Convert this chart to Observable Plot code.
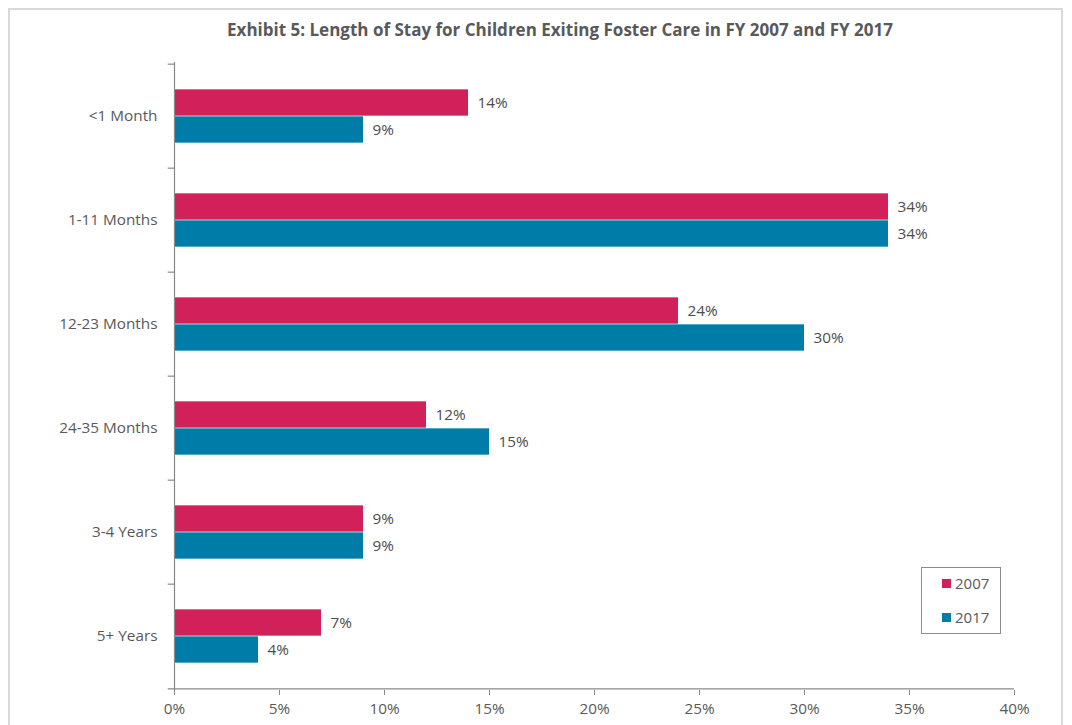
<!DOCTYPE html>
<html>
<head>
<meta charset="utf-8">
<script src="https://cdn.jsdelivr.net/npm/d3@7"></script>
<script src="https://cdn.jsdelivr.net/npm/@observablehq/plot@0.6"></script>
<style>
  html, body { margin: 0; padding: 0; background: #fff; }
  #wrap { position: relative; width: 1072px; height: 725px; overflow: hidden; font-family: "Open Sans", Lato, sans-serif; color: #595959; }
  #border { position: absolute; left: 8px; top: 8px; width: 1055px; height: 740px; border: 2px solid #d9d9d9; box-sizing: border-box; }
  #title { position: absolute; left: 0; width: 1120px; top: 18px; text-align: center; font-weight: bold; font-size: 17px; color: #595959; }
  #chart { position: absolute; left: 0; top: 48px; }
  #legend { position: absolute; left: 921px; top: 567px; width: 80px; height: 67px; border: 1.5px solid #8c8c8c; box-sizing: border-box; font-size: 15px; }
  .item { position: absolute; left: 20px; display: flex; align-items: center; gap: 4px; }
  .sw { width: 9px; height: 9px; display: inline-block; }
</style>
</head>
<body>
<div id="wrap">
  <div id="border"></div>
  <div id="title">Exhibit 5: Length of Stay for Children Exiting Foster Care in FY 2007 and FY 2017</div>
  <div id="chart"></div>
  <div id="legend"></div>
</div>
<script>
const categories = ["<1 Month", "1-11 Months", "12-23 Months", "24-35 Months", "3-4 Years", "5+ Years"];
const series = ["2007", "2017"];
const values2007 = [14, 34, 24, 12, 9, 7];
const values2017 = [9, 34, 30, 15, 9, 4];
const xTicks = [0, 5, 10, 15, 20, 25, 30, 35, 40];
const colors = {"2007": "#d2205a", "2017": "#007ca9"};

const W = 1072, H = 677, mTop = 14, mBottom = 35, mLeft = 174, mRight = 58;
const bw = (H - mTop - mBottom) / categories.length;
const barH = 27;

const d07 = categories.map((c, i) => ({cat: c, value: values2007[i], year: "2007"}));
const d17 = categories.map((c, i) => ({cat: c, value: values2017[i], year: "2017"}));
const grey = "#898989";

const chart = Plot.plot({
  width: W, height: H,
  marginTop: mTop, marginBottom: mBottom, marginLeft: mLeft, marginRight: mRight,
  style: {fontFamily: "'Open Sans', Lato, sans-serif", fontSize: "15.3px", color: "#595959", background: "transparent"},
  x: {domain: [0, 40], label: null},
  y: {domain: categories, padding: 0, label: null},
  marks: [
    Plot.barX(d07, {x: "value", y: "cat", fill: colors["2007"], insetTop: bw / 2 - barH, insetBottom: bw / 2}),
    Plot.barX(d17, {x: "value", y: "cat", fill: colors["2017"], insetTop: bw / 2, insetBottom: bw / 2 - barH}),
    Plot.text(d07, {x: "value", y: "cat", text: d => d.value + "%", dx: 9, dy: -barH / 2, textAnchor: "start", fill: "#4d4d4d"}),
    Plot.text(d17, {x: "value", y: "cat", text: d => d.value + "%", dx: 9, dy: barH / 2, textAnchor: "start", fill: "#4d4d4d"}),
    Plot.ruleX([0], {stroke: grey, strokeWidth: 1.2}),
    Plot.ruleY(categories, {y: d => d, dy: -bw / 2, x1: -0.3, x2: 0, stroke: grey, strokeWidth: 1.2}),
    Plot.ruleY([categories[categories.length - 1]], {y: d => d, dy: bw / 2, x1: -0.3, x2: 40, stroke: grey, strokeWidth: 1.2}),
    Plot.axisX(xTicks, {anchor: "bottom", label: null, tickSize: 5, tickPadding: 8, tickFormat: d => d + "%", stroke: grey, fill: "#595959"}),
    Plot.axisY({anchor: "left", label: null, tickSize: 0, tickPadding: 17, fill: "#595959"})
  ]
});
document.getElementById("chart").appendChild(chart);

const legend = document.getElementById("legend");
series.forEach((s, i) => {
  const it = document.createElement("div");
  it.className = "item";
  it.style.top = (5 + i * 34) + "px";
  it.innerHTML = `<span class="sw" style="background:${colors[s]}"></span><span>${s}</span>`;
  legend.appendChild(it);
});
</script>
</body>
</html>
